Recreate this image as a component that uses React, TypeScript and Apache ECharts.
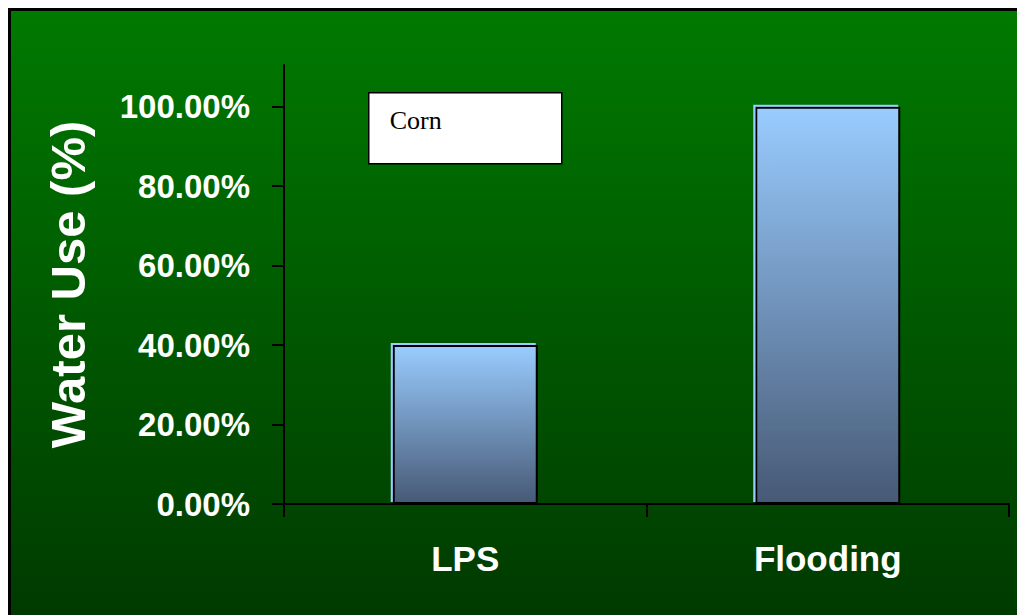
import React, { useEffect, useRef } from "react";
import * as echarts from "echarts";

const categories = ["LPS", "Flooding"];
const waterUse = [40, 100];
const seriesName = "Corn";
const yTicks = [0, 20, 40, 60, 80, 100];
const yTitle = "Water Use (%)";

export default function App() {
  const ref = useRef<HTMLDivElement>(null);
  useEffect(() => {
    if (!ref.current) return;
    const chart = echarts.init(ref.current, undefined, { renderer: "svg" });
    chart.setOption({
      animation: false,
      backgroundColor: {
        type: "linear",
        x: 0, y: 0, x2: 0, y2: 1,
        colorStops: [
          { offset: 0, color: "#007a00" },
          { offset: 1, color: "#003a00" },
        ],
      },
      grid: { left: 276, right: 8, top: 57, bottom: 111, containLabel: false },
      xAxis: {
        type: "category",
        data: categories,
        boundaryGap: true,
        axisLine: { lineStyle: { color: "#000", width: 2 } },
        axisTick: { show: true, length: 13, lineStyle: { color: "#000", width: 2 } },
        axisLabel: {
          color: "#fff",
          fontFamily: "Liberation Sans, Arial, sans-serif",
          fontWeight: "bold",
          fontSize: 35,
          margin: 37,
        },
        splitLine: { show: false },
      },
      yAxis: {
        type: "value",
        min: 0,
        max: 110.5,
        name: yTitle,
        nameLocation: "middle",
        nameRotate: 90,
        nameGap: 192,
        nameTextStyle: {
          color: "#fff",
          fontFamily: "Liberation Sans, Arial, sans-serif",
          fontWeight: "bold",
          fontSize: 49,
        },
        axisLine: { show: true, lineStyle: { color: "#000", width: 2 } },
        axisTick: {
          show: true,
          length: 12,
          customValues: yTicks,
          lineStyle: { color: "#000", width: 2 },
        },
        axisLabel: {
          customValues: yTicks,
          color: "#fff",
          fontFamily: "Liberation Sans, Arial, sans-serif",
          fontWeight: "bold",
          fontSize: 33,
          margin: 34,
          formatter: (v: number) => v.toFixed(2) + "%",
        },
        splitLine: { show: false },
      },
      series: [
        {
          name: seriesName,
          type: "bar",
          data: waterUse,
          barWidth: "40%",
          itemStyle: {
            color: {
              type: "linear",
              x: 0, y: 0, x2: 0, y2: 1,
              colorStops: [
                { offset: 0, color: "#99ccff" },
                { offset: 1, color: "#475975" },
              ],
            },
            borderColor: "#000",
            borderWidth: 2,
            shadowColor: "#99ccff",
            shadowOffsetX: -2,
            shadowOffsetY: -2,
            shadowBlur: 0,
          },
        },
      ],
      graphic: [
        {
          type: "polyline",
          shape: { points: [[1.5, 700], [1.5, 1.5], [1100, 1.5]] },
          style: { fill: "none", stroke: "#000", lineWidth: 3 },
          silent: true,
          z: 100,
        },
        {
          type: "group",
          left: 360,
          top: 84,
          children: [
            {
              type: "rect",
              shape: { x: 0, y: 0, width: 193, height: 71 },
              style: { fill: "#fff", stroke: "#000", lineWidth: 1.5 },
            },
            {
              type: "text",
              x: 21,
              y: 15,
              style: {
                text: seriesName,
                fill: "#000",
                font: "26px 'Liberation Serif', 'Times New Roman', serif",
              },
            },
          ],
        },
      ],
    });
    return () => chart.dispose();
  }, []);
  return (
    <div
      ref={ref}
      style={{ position: "fixed", left: 8, top: 8, width: 1009, height: 607 }}
    />
  );
}
